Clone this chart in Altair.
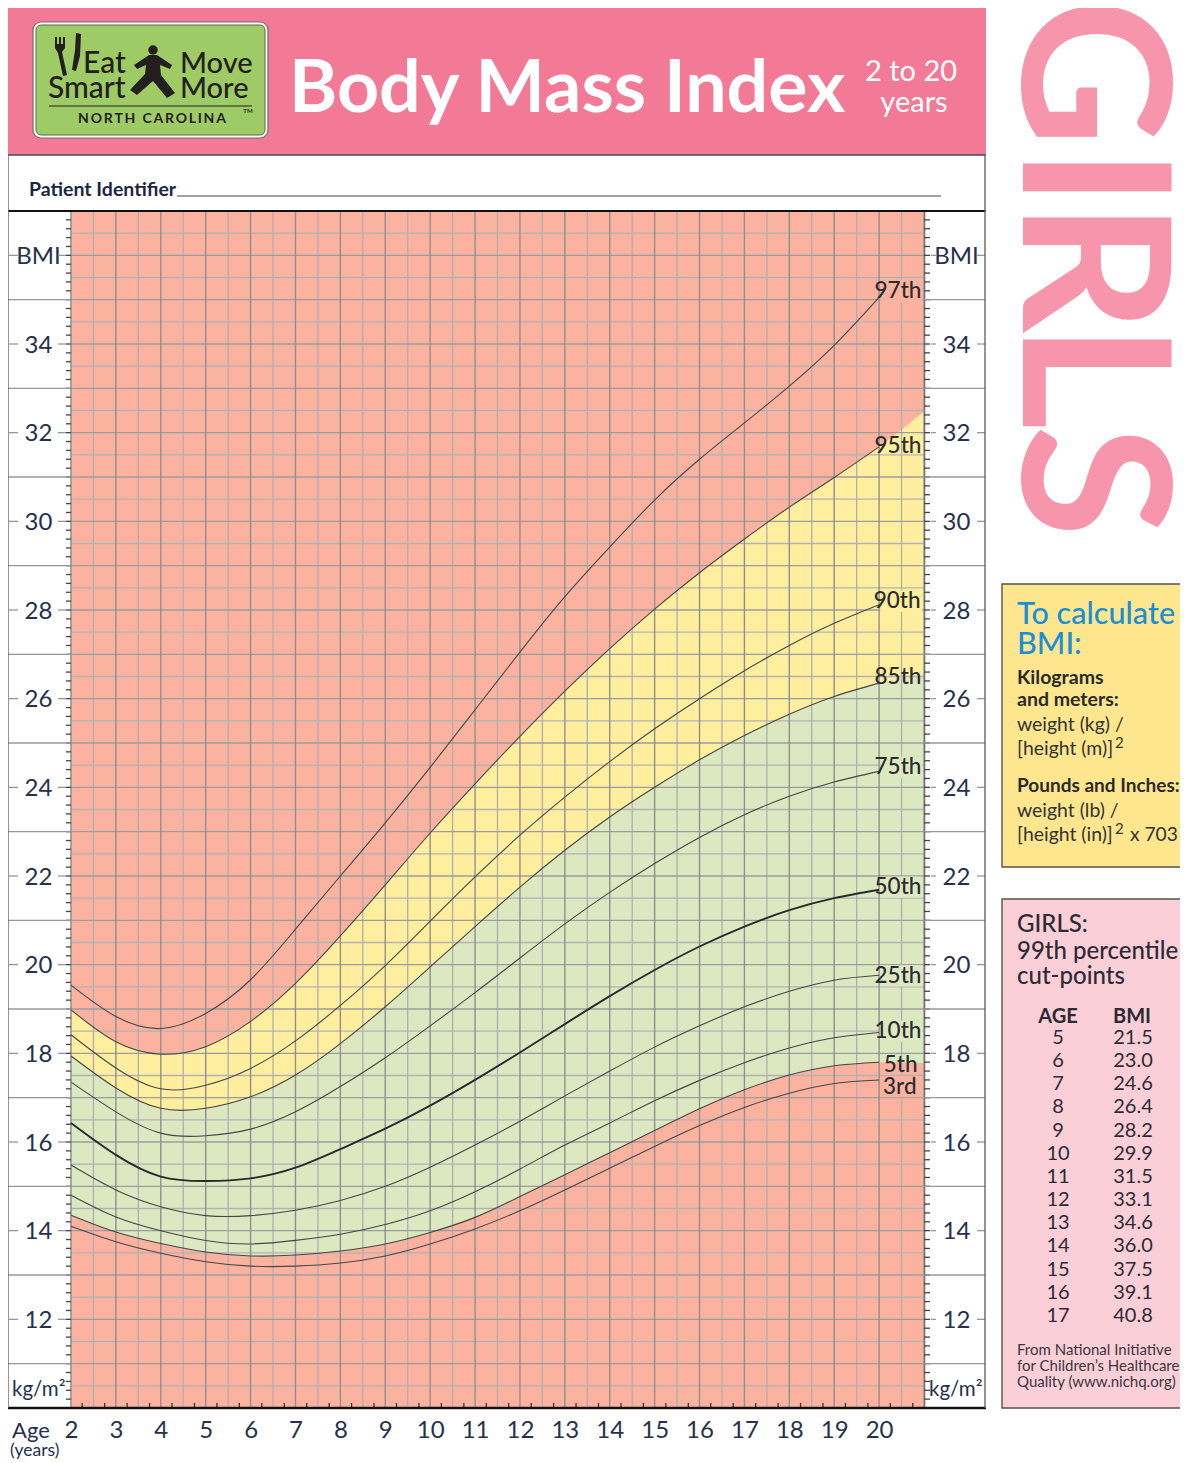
import altair as alt
import pandas as pd

AGES = list(range(2, 21))
P3 = [14.10,13.75,13.49,13.30,13.20,13.20,13.27,13.43,13.70,14.04,14.45,14.92,15.41,15.90,16.37,16.78,17.10,17.32,17.40]
P5 = [14.35,13.97,13.71,13.52,13.43,13.45,13.54,13.70,13.96,14.30,14.77,15.26,15.76,16.26,16.75,17.18,17.51,17.72,17.80]
P10 = [14.80,14.31,14.00,13.78,13.70,13.78,13.92,14.14,14.45,14.88,15.39,15.93,16.43,16.93,17.39,17.79,18.12,18.35,18.47]
P25 = [15.48,14.92,14.54,14.34,14.34,14.46,14.68,15.00,15.43,15.93,16.47,17.04,17.60,18.14,18.62,19.05,19.40,19.65,19.76]
P50 = [16.43,15.71,15.22,15.12,15.18,15.42,15.84,16.30,16.82,17.40,18.02,18.66,19.29,19.88,20.41,20.86,21.23,21.50,21.69]
P75 = [17.35,16.68,16.20,16.14,16.29,16.68,17.25,17.90,18.62,19.37,20.15,20.92,21.63,22.28,22.87,23.38,23.80,24.12,24.36]
P85 = [17.94,17.22,16.76,16.76,17.02,17.51,18.22,19.05,19.95,20.86,21.75,22.58,23.33,24.00,24.62,25.17,25.65,26.05,26.35]
P90 = [18.42,17.67,17.20,17.28,17.66,18.28,19.08,19.98,20.98,21.98,22.92,23.78,24.58,25.32,26.00,26.63,27.20,27.70,28.12]
P95 = [18.98,18.26,17.98,18.15,18.72,19.58,20.65,21.80,22.97,24.08,25.15,26.17,27.13,28.02,28.84,29.60,30.32,30.99,31.68]
P97 = [19.54,18.83,18.56,18.90,19.66,20.80,22.00,23.20,24.45,25.75,27.05,28.30,29.42,30.48,31.40,32.22,33.05,33.97,35.05]
# bands carry on to the right edge of the grid, one year past the last curve point
EDGE_AGE, EDGE_P5, EDGE_P85, EDGE_P95 = 21, 17.78, 26.52, 32.48

CURVES = {"3rd": P3, "5th": P5, "10th": P10, "25th": P25, "75th": P75, "85th": P85, "90th": P90, "95th": P95, "97th": P97}
LABELS = ["97th", "95th", "90th", "85th", "75th", "50th", "25th", "10th", "5th", "3rd"]
LABEL_BMI = [35.20, 31.70, 28.20, 26.50, 24.45, 21.75, 19.75, 18.50, 17.74, 17.25]
LABEL_AGE = [20.42, 20.42, 20.40, 20.42, 20.42, 20.42, 20.42, 20.42, 20.48, 20.46]
LABEL_BG = ["#FBB3A0", None, "#FEEE9D", None, "#DCE9C0", "#DCE9C0", "#DCE9C0", "#DCE9C0", None, "#FBB3A0"]

CUT_AGE = [5, 6, 7, 8, 9, 10, 11, 12, 13, 14, 15, 16, 17]
CUT_BMI = ["21.5", "23.0", "24.6", "26.4", "28.2", "29.9", "31.5", "33.1", "34.6", "36.0", "37.5", "39.1", "40.8"]

SALMON, YELLOW, GREEN = "#FBB3A0", "#FEEE9D", "#DCE9C0"
NAVY, DARK = "#26304d", "#2b2b30"
HEAD, GIRLPINK = "#F27A97", "#F795AC"
FONT = "Lato"
OX, OY, W, H = 71, 211, 853, 1197

xs = alt.Scale(domain=[2, 21], nice=False, zero=False)
ys = alt.Scale(domain=[10, 37], nice=False, zero=False)


def X(field="age"):
    return alt.X(field, type="quantitative", scale=xs, axis=None)


def Y(field="bmi", axis=None):
    return alt.Y(field, type="quantitative", scale=ys, axis=axis)


def T(s, x, y, size, color=NAVY, weight="normal", align="left", angle=0, font=FONT):
    return alt.Chart().mark_text(text=s, font=font, fontSize=size, color=color, fontWeight=weight,
                                 align=align, baseline="alphabetic", angle=angle).encode(
        x=alt.value(x - OX), y=alt.value(y - OY))


def R(x0, y0, x1, y1, fill, stroke=None, sw=1, radius=0):
    kw = dict(fill=fill)
    if stroke:
        kw.update(stroke=stroke, strokeWidth=sw)
    if radius:
        kw.update(cornerRadius=radius)
    return alt.Chart().mark_rect(**kw).encode(x=alt.value(x0 - OX), x2=alt.value(x1 - OX),
                                              y=alt.value(y0 - OY), y2=alt.value(y1 - OY))


def HL(x0, x1, y, color, sw=1.0):
    return alt.Chart().mark_rule(color=color, strokeWidth=sw).encode(
        x=alt.value(x0 - OX), x2=alt.value(x1 - OX), y=alt.value(y - OY))


def VL(x, y0, y1, color, sw=1.0):
    return alt.Chart().mark_rule(color=color, strokeWidth=sw).encode(
        x=alt.value(x - OX), y=alt.value(y0 - OY), y2=alt.value(y1 - OY))


def ICON(points, color="#231f20"):
    ax, ay = 100, 60
    path = "M" + " L".join(f"{(px - ax) / 50:.3f} {(py - ay) / 50:.3f}" for px, py in points) + " Z"
    return alt.Chart().mark_point(shape=path, size=10000, filled=True, color=color, opacity=1).encode(
        x=alt.value(ax - OX), y=alt.value(ay - OY))


layers = []

# ---- header -------------------------------------------------------------
layers.append(R(8, 0, 986, 155, HEAD))
layers.append(R(33, 22, 268, 138, "#ffffff", "#6d6d6d", 1.2, 8))
layers.append(R(36, 25, 265, 135, "#9ECB65", "#5e6b4c", 1, 5))
LOGO = [("Eat", 83, 73, 30), ("Smart", 48, 98, 30), ("Move", 180, 73, 29), ("More", 180, 98, 29)]
for s, x, y, z in LOGO:
    layers.append(T(s, x, y, z, "#231f20", 500))
layers.append(HL(49, 252, 106, "#231f20", 1.2))
layers.append(T("N\u2009O\u2009R\u2009T\u2009H\u2002C\u2009A\u2009R\u2009O\u2009L\u2009I\u2009N\u2009A", 152, 123, 14, "#231f20", 700, "center"))
layers.append(T("TM", 248, 113, 6, "#231f20", 700, "center"))
layers.append(alt.Chart().mark_point(shape="circle", size=90, filled=True, color="#231f20", opacity=1).encode(
    x=alt.value(153 - OX), y=alt.value(50 - OY)))
PERSON = [(149, 55), (157, 55), (172, 65), (170, 69), (160, 65), (161, 75), (175, 93), (167, 98), (153, 81),
          (137, 95), (130, 90), (145, 74), (146, 65), (137, 69), (134, 65)]
KNIFE = [(76, 33), (81, 34), (80, 56), (76, 71), (72, 70), (75, 50)]
FORK = [(55, 37), (57, 37), (57, 44), (59, 44), (59, 37), (61, 37), (61, 44), (63, 44), (63, 37), (65, 37),
        (65, 48), (62, 52), (67, 75), (63, 76), (58, 53), (55, 48)]
layers += [ICON(PERSON), ICON(KNIFE), ICON(FORK)]
layers.append(T("Body Mass Index", 289, 112, 73.5, "#ffffff", 700))
layers.append(T("2 to 20", 911, 81, 29, "#ffffff", "normal", "center"))
layers.append(T("years", 914, 112, 29, "#ffffff", "normal", "center"))

# ---- GIRLS ---------------------------------------------------------------
for letter, y in zip("GIRLS", [-2, 147, 201, 323, 425]):
    layers.append(T(letter, 1023, y, 205, GIRLPINK, 700, "left", 90))

# ---- patient strip -------------------------------------------------------
layers.append(T("Patient Identifier", 29, 196, 19.5, "#20263f", 700))
layers.append(HL(177, 941, 196, "#444444", 1))

# ---- plot background and bands -------------------------------------------
layers.append(R(OX, OY, OX + W, OY + H, SALMON))
bands = pd.DataFrame({"age": AGES + [EDGE_AGE], "p5": P5 + [EDGE_P5], "p85": P85 + [EDGE_P85], "p95": P95 + [EDGE_P95]})
layers.append(alt.Chart(bands).mark_area(color=YELLOW, interpolate="natural").encode(
    x=X(), y=Y("p85"), y2=alt.Y2("p95")))
layers.append(alt.Chart(bands).mark_area(color=GREEN, interpolate="natural").encode(
    x=X(), y=Y("p5"), y2=alt.Y2("p85")))

# ---- grid ----------------------------------------------------------------
half_x = [a + 0.5 for a in range(2, 21)]
int_x = list(range(2, 22))
half_y = [b + 0.5 for b in range(10, 37)]
int_y = list(range(10, 38))
layers.append(alt.Chart(pd.DataFrame({"age": half_x})).mark_rule(color="#aeaeb2", strokeWidth=1.3).encode(x=X()))
layers.append(alt.Chart(pd.DataFrame({"bmi": half_y})).mark_rule(color="#b2b2b4", strokeWidth=1.3).encode(y=Y()))
layers.append(alt.Chart(pd.DataFrame({"bmi": int_y})).mark_rule(color="#9c9c9e", strokeWidth=1.3).encode(y=Y()))
layers.append(alt.Chart(pd.DataFrame({"age": int_x})).mark_rule(color="#8f8f91", strokeWidth=1.4).encode(x=X()))

# ---- axes with their minor ticks -----------------------------------------
tick_y = pd.DataFrame({"bmi": [10 + i * 0.2 for i in range(136)]})
even = list(range(12, 37, 2))
axis_kw = dict(values=even, tickSize=0, labelFontSize=24, labelFont=FONT, labelColor=NAVY, labelAlign="center",
               labelBaseline="middle", labelOverlap=False, labelBound=False, labelFlush=False, labelOffset=1,
               domainColor="#444444", domainWidth=1.5, grid=False, title=None,
               labelExpr="datum.value == 36 ? 'BMI' : datum.label")
layers.append(alt.Chart(tick_y).mark_rule(color="#444444", strokeWidth=1.3).encode(
    x=alt.value(-5), x2=alt.value(0), y=Y(axis=alt.Axis(orient="left", labelPadding=33, **axis_kw))))
layers.append(alt.Chart(tick_y).mark_rule(color="#444444", strokeWidth=1.3).encode(
    x=alt.value(W), x2=alt.value(W + 6), y=Y(axis=alt.Axis(orient="right", labelPadding=32, **axis_kw))))
quarter = pd.DataFrame({"age": [2 + i * 0.5 + 0.25 for i in range(38)]})
layers.append(alt.Chart(quarter).mark_rule(color="#333333", strokeWidth=1.3).encode(
    x=alt.X("age", type="quantitative", scale=xs,
            axis=alt.Axis(values=list(range(2, 21)), tickSize=0, labelFontSize=24, labelFont=FONT, labelColor=NAVY,
                          labelPadding=10, labelOverlap=False, labelBound=False, labelFlush=False,
                          domain=False, grid=False, title=None)),
    y=alt.value(H - 5), y2=alt.value(H)))

# side rules and ticks in the margins
odd = pd.DataFrame({"bmi": list(range(11, 36, 2))})
evens = pd.DataFrame({"bmi": even})
for x0, x1 in [(8, OX), (OX + W, 985)]:
    layers.append(alt.Chart(odd).mark_rule(color="#98989a", strokeWidth=1.4).encode(
        x=alt.value(x0 - OX), x2=alt.value(x1 - OX), y=Y()))
for x0, x1 in [(9, 18), (58, 66), (931, 936), (977, 985)]:
    layers.append(alt.Chart(evens).mark_rule(color="#8f8f8f", strokeWidth=1.2).encode(
        x=alt.value(x0 - OX), x2=alt.value(x1 - OX), y=Y()))
layers.append(T("kg/m\u00b2", 12, 1396, 20.5, NAVY))
layers.append(T("kg/m\u00b2", 929, 1396, 20.5, NAVY))
layers.append(T("Age", 12, 1438, 22, NAVY))
layers.append(T("(years)", 10, 1456, 17.5, NAVY))

# ---- frame ---------------------------------------------------------------
layers.append(HL(8, 986, 155, "#4a4a4a", 1.5))
layers.append(HL(8, 986, 211, "#111111", 2.2))
layers.append(HL(8, 986, 1408, "#111111", 2.5))
layers.append(VL(8, 155, 1408, "#666666", 1.4))
layers.append(VL(985, 155, 1408, "#666666", 1.4))

# ---- curves --------------------------------------------------------------
long = pd.concat([pd.DataFrame({"age": AGES, "bmi": v, "p": k}) for k, v in CURVES.items()])
layers.append(alt.Chart(long).mark_line(color="#45454a", strokeWidth=1.1, interpolate="natural").encode(
    x=X(), y=Y(), detail="p:N"))
layers.append(alt.Chart(pd.DataFrame({"age": AGES, "bmi": P50})).mark_line(
    color="#2a2a2e", strokeWidth=1.9, interpolate="natural").encode(x=X(), y=Y()))

for lab, b, a, bg in zip(LABELS, LABEL_BMI, LABEL_AGE, LABEL_BG):
    row = pd.DataFrame({"age": [a], "bmi": [b], "a0": [20.03], "a1": [20.96], "b0": [b - 0.24], "b1": [b + 0.24], "t": [lab]})
    if bg:
        layers.append(alt.Chart(row).mark_rect(fill=bg).encode(x=X("a0"), x2=alt.X2("a1"), y=Y("b0"), y2=alt.Y2("b1")))
    layers.append(alt.Chart(row).mark_text(font=FONT, fontSize=22.5, fontWeight=500, color=DARK, baseline="middle").encode(
        x=X(), y=Y(), text="t:N"))

# ---- formula panel -------------------------------------------------------
layers.append(R(1002, 584, 1195, 867, "#FEE68F", "#55534a", 1.4))
layers.append(T("To calculate", 1017, 624, 30.6, "#1b8fd6", 500))
layers.append(T("BMI:", 1017, 654, 30.6, "#1b8fd6", 500))
BOLD = [("Kilograms", 684, 19.5), ("and meters:", 706, 19.5), ("Pounds and Inches:", 792, 19)]
for s, y, z in BOLD:
    layers.append(T(s, 1017, y, z, "#2a2a2a", 700))
REG = [("weight (kg) /", 731), ("[height (m)]", 755), ("weight (lb) /", 817), ("[height (in)]", 841)]
for s, y in REG:
    layers.append(T(s, 1017, y, 19.4, "#333333"))
layers.append(T("2", 1115, 748, 15, "#333333"))
layers.append(T("2", 1115, 834, 15, "#333333"))
layers.append(T("x 703", 1130, 841, 19.2, "#333333"))

# ---- cut-point panel -----------------------------------------------------
layers.append(R(1002, 899, 1195, 1408, "#FBCFD8", "#55534a", 1.4))
HEADS = [("GIRLS:", 932), ("99th percentile", 959), ("cut-points", 984)]
for s, y in HEADS:
    layers.append(T(s, 1017, y, 24, "#2d2a33", 500))
layers.append(T("AGE", 1058, 1023, 20, "#2d2a33", 700, "center"))
layers.append(T("BMI", 1132, 1023, 20, "#2d2a33", 700, "center"))
for i, (a, b) in enumerate(zip(CUT_AGE, CUT_BMI)):
    y = 1044 + i * 23.15
    layers.append(T(str(a), 1058, y, 20, "#2d2a33", "normal", "center"))
    layers.append(T(b, 1133, y, 20, "#2d2a33", "normal", "center"))
FOOT = [("From National Initiative", 1355), ("for Children\u2019s Healthcare", 1371), ("Quality (www.nichq.org)", 1387)]
for s, y in FOOT:
    layers.append(T(s, 1017, y, 15, "#3a3640"))

chart = alt.layer(*layers).resolve_scale(x="independent", y="independent").properties(
    width=W, height=H,
    padding={"left": 63, "top": 203, "right": 256, "bottom": 55},
    autosize=alt.AutoSizeParams(type="none"),
    background="#ffffff",
).configure_view(strokeWidth=0)

chart.save("out.html", embed_options={"renderer": "svg", "actions": False})
